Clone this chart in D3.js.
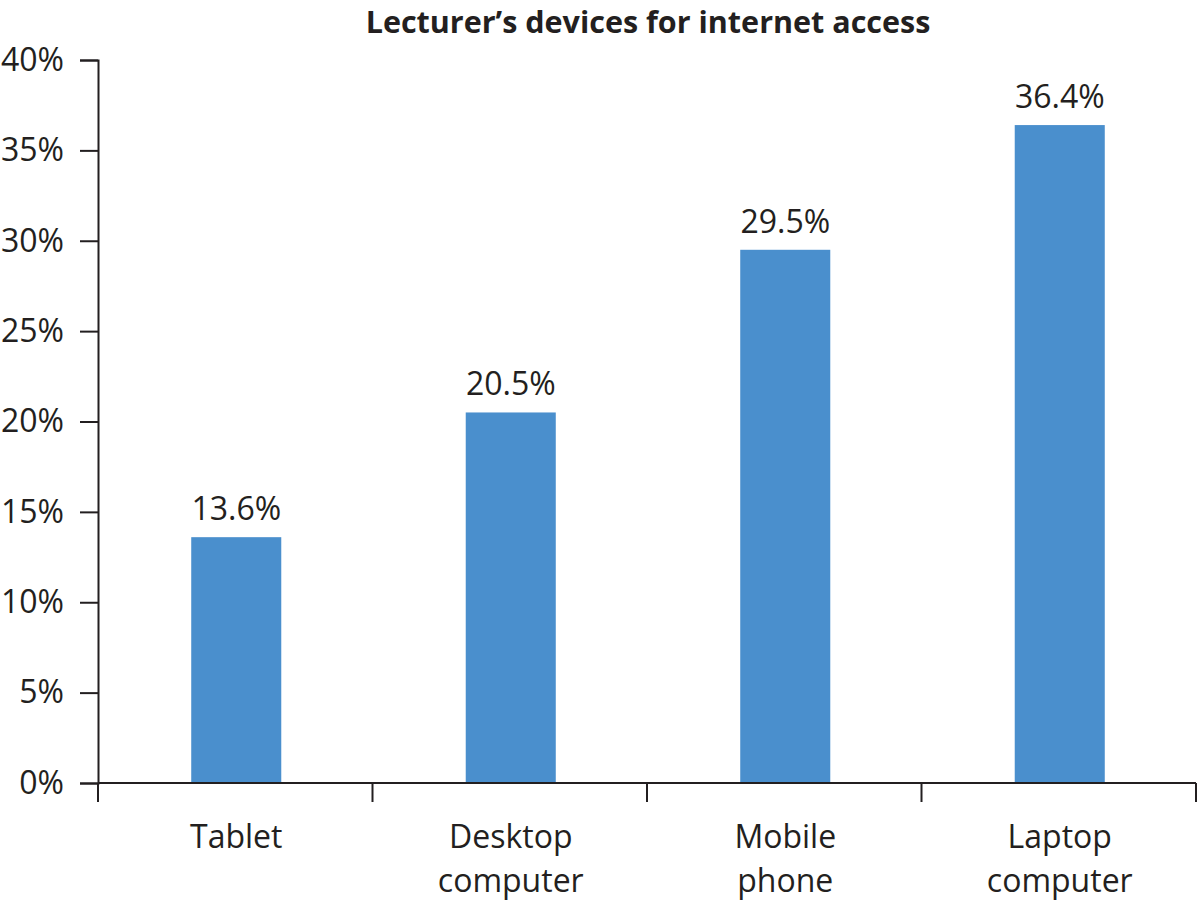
<!DOCTYPE html>
<html>
<head>
<meta charset="utf-8">
<script src="https://cdn.jsdelivr.net/npm/d3@7"></script>
<style>
  body { margin: 0; background: #fff; }
  svg text { font-family: "Open Sans", "Noto Sans", sans-serif; fill: #231f20; }
</style>
</head>
<body>
<div id="chart"></div>
<script>
// Lecturer's devices chart
const categories = [['Tablet'], ['Desktop', 'computer'], ['Mobile', 'phone'], ['Laptop', 'computer']];
const values = [0.136, 0.205, 0.295, 0.364];
const yTicks = [0, 0.05, 0.10, 0.15, 0.20, 0.25, 0.30, 0.35, 0.40];

(function() {
    const width = 1200;
    const height = 900;
    const margin = {top: 60, right: 4, bottom: 117, left: 98};
    const ink = '#231f20';

    const keys = categories.map(c => c.join(' '));

    const svg = d3.select('#chart')
        .append('svg')
        .attr('width', width)
        .attr('height', height);

    const x = d3.scaleBand()
        .domain(keys)
        .range([margin.left, width - margin.right]);

    const y = d3.scaleLinear()
        .domain([0, 0.4])
        .range([height - margin.bottom, margin.top]);

    const barW = x.step() * 0.328;

    // bars
    svg.selectAll('.bar')
        .data(values)
        .enter()
        .append('rect')
        .attr('class', 'bar')
        .attr('x', (d, i) => x(keys[i]) + x.bandwidth() / 2 - barW / 2 + 1)
        .attr('y', d => y(d))
        .attr('width', barW)
        .attr('height', d => y(0) - y(d))
        .attr('fill', '#4a8fcd');

    // value labels
    svg.selectAll('.val')
        .data(values)
        .enter()
        .append('text')
        .attr('x', (d, i) => x(keys[i]) + x.bandwidth() / 2 + 1)
        .attr('y', d => y(d) - 17)
        .attr('text-anchor', 'middle')
        .attr('font-size', '32px')
        .text(d => d3.format('.1%')(d));

    // y axis
    const yAxis = svg.append('g')
        .attr('transform', `translate(${margin.left},0)`)
        .call(d3.axisLeft(y).tickValues(yTicks).tickFormat(d3.format('.0%')).tickSize(18).tickPadding(16));
    yAxis.select('.domain').attr('stroke', ink).attr('stroke-width', 2);
    yAxis.selectAll('.tick line').attr('stroke', ink).attr('stroke-width', 2);
    yAxis.selectAll('.tick text').attr('font-size', '32px').attr('fill', ink)
        .style('font-family', '"Open Sans", sans-serif');

    // x axis line + tick marks at band edges
    const edges = keys.map(k => x(k)).concat([x.range()[1]]);
    svg.append('line')
        .attr('x1', margin.left).attr('x2', x.range()[1])
        .attr('y1', y(0)).attr('y2', y(0))
        .attr('stroke', ink).attr('stroke-width', 2);
    svg.selectAll('.xtick')
        .data(edges)
        .enter()
        .append('line')
        .attr('x1', d => d).attr('x2', d => d)
        .attr('y1', y(0)).attr('y2', y(0) + 19)
        .attr('stroke', ink).attr('stroke-width', 2);

    // category labels
    const cat = svg.selectAll('.cat')
        .data(categories)
        .enter()
        .append('text')
        .attr('text-anchor', 'middle')
        .attr('font-size', '32px');
    cat.selectAll('tspan')
        .data((d, i) => d.map(line => ({line, i})))
        .enter()
        .append('tspan')
        .attr('x', d => x(keys[d.i]) + x.bandwidth() / 2 + 1)
        .attr('y', (d, j) => 848 + j * 44)
        .text(d => d.line);

    // title
    svg.append('text')
        .attr('x', 648)
        .attr('y', 33)
        .attr('text-anchor', 'middle')
        .attr('font-size', '30.5px')
        .attr('font-weight', 'bold')
        .text('Lecturer\u2019s devices for internet access');
})();
</script>
</body>
</html>
